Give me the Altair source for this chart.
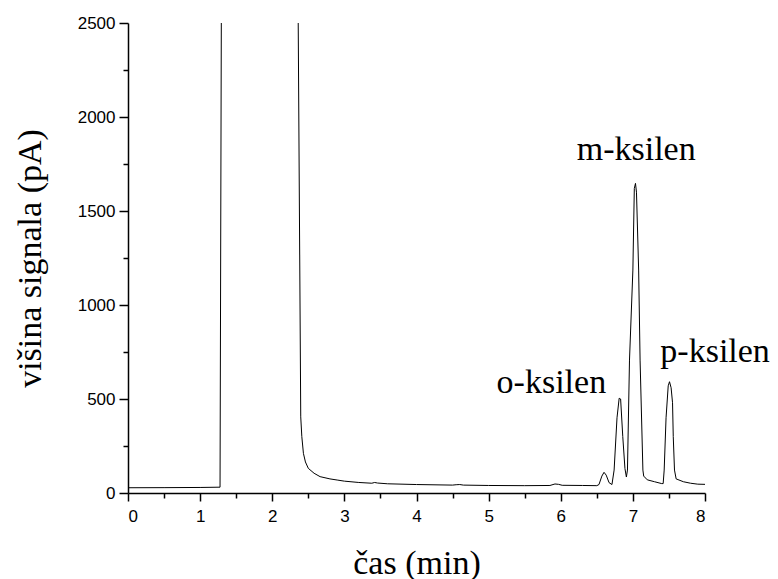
import altair as alt
import pandas as pd

# Chromatogram trace (time in min, signal in pA); values above 2500 are off-scale (clipped)
time_min = [0.0, 0.5, 1.0, 1.276, 1.296, 2.355, 2.395, 2.41, 2.432, 2.46, 2.50, 2.58, 2.663, 2.8, 2.9,
            3.0, 3.2, 3.38, 3.42, 3.46, 3.6, 4.0, 4.5, 4.55, 4.6, 4.65, 5.0, 5.5, 5.85, 5.92, 5.97,
            6.02, 6.3, 6.5, 6.53, 6.57, 6.6, 6.63, 6.67, 6.71, 6.74, 6.78, 6.81, 6.83, 6.86, 6.89,
            6.91, 6.925, 6.953, 7.0, 7.02, 7.036, 7.05, 7.08, 7.10, 7.139, 7.15, 7.2, 7.3, 7.4,
            7.42, 7.434, 7.46, 7.49, 7.508, 7.53, 7.55, 7.56, 7.577, 7.6, 7.7, 7.8, 7.9, 8.0]
signal_pA = [28, 28.5, 29.5, 31, 2800, 2800, 405, 300, 211, 165, 131, 105, 87, 75, 69,
             63, 56, 52, 56, 53, 49, 45, 42, 44, 45, 42, 40, 39, 40, 48, 46,
             41, 40, 39, 45, 90, 110, 95, 55, 45, 122, 400, 504, 500, 300, 130,
             85, 122, 707, 1186, 1620, 1647, 1600, 1186, 707, 122, 90, 70, 60, 50,
             50, 122, 400, 570, 592, 560, 480, 300, 122, 75, 60, 52, 47, 46]

peak_labels = ["o-ksilen", "m-ksilen", "p-ksilen"]
peak_label_time = [5.87, 7.046, 8.14]
peak_label_signal = [532, 1771, 697]

x_major = [0, 1, 2, 3, 4, 5, 6, 7, 8]
x_minor = [0.5, 1.5, 2.5, 3.5, 4.5, 5.5, 6.5, 7.5]
y_major = [0, 500, 1000, 1500, 2000, 2500]
y_minor = [250, 750, 1250, 1750, 2250]

SERIF = "Times New Roman, Liberation Serif, DejaVu Serif, serif"
SANS = "Arial, Liberation Sans, Helvetica, sans-serif"

df = pd.DataFrame({"t": time_min, "s": signal_pA})
ann = pd.DataFrame({"label": peak_labels, "t": peak_label_time, "s": peak_label_signal})

xscale = alt.Scale(domain=[0, 8], nice=False, zero=False)
yscale = alt.Scale(domain=[0, 2500], nice=False)

line = alt.Chart(df).mark_line(color="black", strokeWidth=1, clip=True).encode(
    x=alt.X("t:Q", scale=xscale,
            axis=alt.Axis(values=x_major, format="d", title="čas (min)", orient="bottom",
                          tickSize=8, labelPadding=7,
                          titleX=288.5, titleY=80, titleAlign="center",
                          titleBaseline="alphabetic", titleAngle=0)),
    y=alt.Y("s:Q", scale=yscale,
            axis=alt.Axis(values=y_major, format="d", title="višina signala (pA)", orient="left",
                          tickSize=9, labelPadding=4,
                          titleX=-98, titleY=235, titleAngle=270, titleAlign="center",
                          titleBaseline="middle")),
)

minor = alt.Chart(df).mark_point(opacity=0).encode(
    x=alt.X("t:Q", scale=xscale,
            axis=alt.Axis(values=x_minor, labels=False, title=None, domain=False,
                          tickSize=5, orient="bottom")),
    y=alt.Y("s:Q", scale=yscale,
            axis=alt.Axis(values=y_minor, labels=False, title=None, domain=False,
                          tickSize=5, orient="left")),
)

text = alt.Chart(ann).mark_text(font=SERIF, fontSize=34, align="center",
                                baseline="alphabetic", color="black").encode(
    x=alt.X("t:Q", scale=xscale, axis=None),
    y=alt.Y("s:Q", scale=yscale, axis=None),
    text="label:N",
)

chart = alt.layer(line, minor, text).resolve_axis(x="independent", y="independent").properties(
    width=577, height=470,
    padding={"left": 128, "top": 23, "right": 73, "bottom": 86},
    autosize=alt.AutoSizeParams(type="none"),
    background="white",
).configure_view(stroke=None).configure_axis(
    grid=False,
    domainColor="black", domainWidth=1.5,
    tickColor="black", tickWidth=1.5,
    labelColor="black", labelFont=SANS, labelFontSize=17,
    titleColor="black", titleFont=SERIF, titleFontSize=34, titleFontWeight="normal",
)

chart.save("out.html", embed_options={"renderer": "svg", "actions": False})
